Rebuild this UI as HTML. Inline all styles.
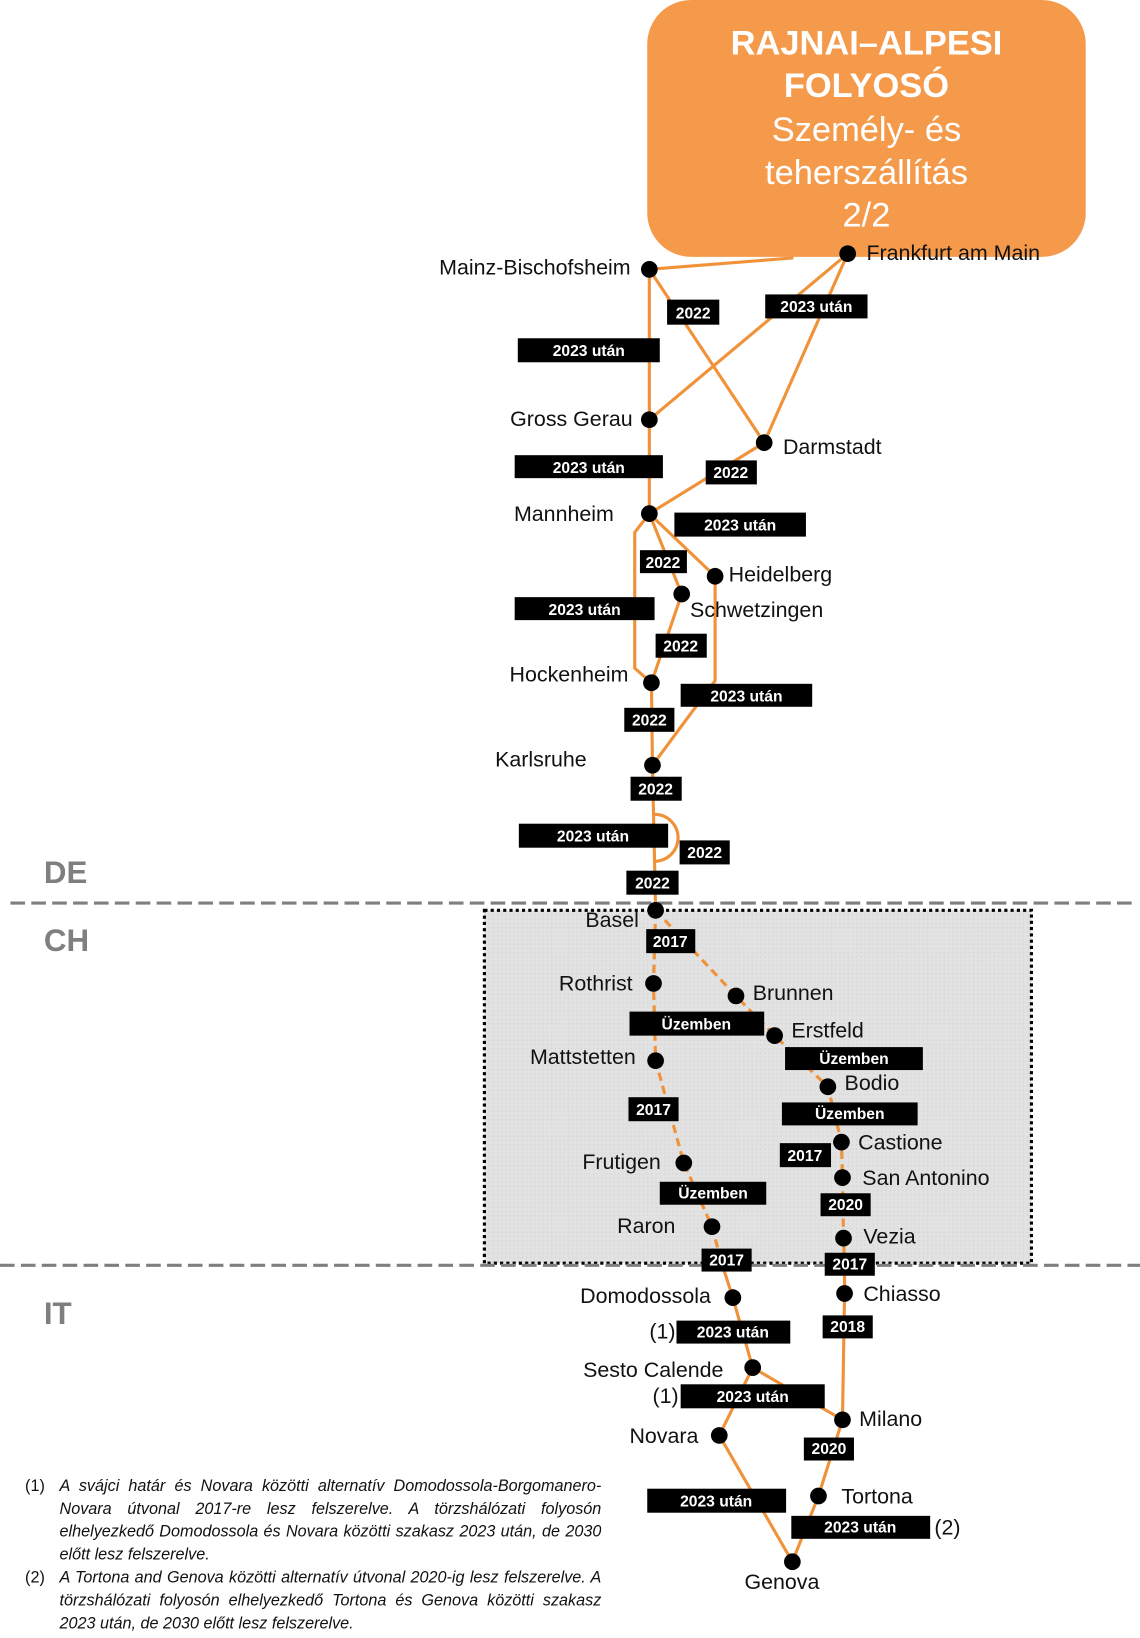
<!DOCTYPE html>
<html><head><meta charset="utf-8"><style>
html,body{margin:0;padding:0;background:#fff;}
svg{display:block;}
.st{font-family:"Liberation Sans",sans-serif;font-size:20.5px;fill:#111;}
.lb{font-family:"Liberation Sans",sans-serif;font-size:15px;font-weight:bold;fill:#fff;text-anchor:middle;}
.o{stroke:#f0923a;stroke-width:3;fill:none;}
.od{stroke:#f0923a;stroke-width:3;fill:none;stroke-dasharray:8,5;}
.cty{font-family:"Liberation Sans",sans-serif;font-size:30px;font-weight:bold;fill:#7f7f7f;}
.fn{font-family:"Liberation Sans",sans-serif;font-style:italic;font-size:15.5px;line-height:22px;color:#111;text-align:justify;}
</style></head><body>
<svg width="1140" height="1638" viewBox="0 0 1092 1569" xmlns="http://www.w3.org/2000/svg">
<defs>
<pattern id="hatch" width="4" height="4" patternUnits="userSpaceOnUse"><rect width="4" height="4" fill="#e2e2e2"/><rect width="1" height="1" fill="#cfcfcf"/></pattern>
</defs>
<rect x="464" y="872" width="524" height="338" fill="url(#hatch)" stroke="#000" stroke-width="3" stroke-dasharray="3,3"/>
<line x1="10" y1="865" x2="1085" y2="865" stroke="#7f7f7f" stroke-width="3" stroke-dasharray="14,6"/>
<line x1="0" y1="1212" x2="1092" y2="1212" stroke="#7f7f7f" stroke-width="3" stroke-dasharray="14,6"/>
<text class="cty" x="42" y="846">DE</text>
<text class="cty" x="42" y="911">CH</text>
<text class="cty" x="42" y="1268">IT</text>

<rect x="620" y="0" width="420" height="246" rx="42" fill="#f59a4b"/>
<g font-family="Liberation Sans,sans-serif" fill="#fff" text-anchor="middle">
<text x="830" y="52" font-size="33" font-weight="bold">RAJNAI–ALPESI</text>
<text x="830" y="93" font-size="33" font-weight="bold">FOLYOSÓ</text>
<text x="830" y="135" font-size="33">Személy- és</text>
<text x="830" y="176" font-size="33">teherszállítás</text>
<text x="830" y="217" font-size="33">2/2</text>
</g>

<path class="o" d="M622 258 L760 247"/>
<path class="o" d="M622 258 L622 492"/>
<path class="o" d="M622 258 L732 424"/>
<path class="o" d="M812 243 L622 402"/>
<path class="o" d="M812 243 L732 424"/>
<path class="o" d="M732 424 L622 492"/>
<path class="o" d="M622 492 L608 510 L608 640 L624 654"/>
<path class="o" d="M622 492 L653 569 L624 654"/>
<path class="o" d="M622 492 L685 552 L685 652 L625 733"/>
<path class="o" d="M624 654 L625 733 L628 872"/>
<path class="o" d="M627 780 A22 22 0 0 1 627 825"/>
<path class="od" d="M628 872 L626 942 L628 1016 L655 1114 L682 1175 L692 1212"/>
<path class="o" d="M692 1212 L702 1243 L721 1310 L689 1375 L759 1496"/>
<path class="od" d="M628 872 L705 954 L742 992 L793 1041 L806 1094 L807 1128 L808 1186 L809 1212"/>
<path class="o" d="M809 1212 L809 1239 L807 1360 L784 1433 L759 1496"/>
<path class="o" d="M721 1310 L807 1360"/>

<g fill="#000">
<circle cx="812" cy="243" r="8"/><circle cx="622" cy="258" r="8"/><circle cx="622" cy="402" r="8"/>
<circle cx="732" cy="424" r="8"/><circle cx="622" cy="492" r="8"/><circle cx="685" cy="552" r="8"/>
<circle cx="653" cy="569" r="8"/><circle cx="624" cy="654" r="8"/><circle cx="625" cy="733" r="8"/>
<circle cx="628" cy="872" r="8"/><circle cx="626" cy="942" r="8"/><circle cx="705" cy="954" r="8"/>
<circle cx="742" cy="992" r="8"/><circle cx="628" cy="1016" r="8"/><circle cx="793" cy="1041" r="8"/>
<circle cx="655" cy="1114" r="8"/><circle cx="806" cy="1094" r="8"/><circle cx="807" cy="1128" r="8"/>
<circle cx="682" cy="1175" r="8"/><circle cx="808" cy="1186" r="8"/><circle cx="702" cy="1243" r="8"/>
<circle cx="809" cy="1239" r="8"/><circle cx="721" cy="1310" r="8"/><circle cx="807" cy="1360" r="8"/>
<circle cx="689" cy="1375" r="8"/><circle cx="784" cy="1433" r="8"/><circle cx="759" cy="1496" r="8"/>
</g>

<text class="st" x="830" y="249">Frankfurt am Main</text>
<text class="st" x="604" y="263" text-anchor="end">Mainz-Bischofsheim</text>
<text class="st" x="606" y="408" text-anchor="end">Gross Gerau</text>
<text class="st" x="750" y="435">Darmstadt</text>
<text class="st" x="588" y="499" text-anchor="end">Mannheim</text>
<text class="st" x="698" y="557">Heidelberg</text>
<text class="st" x="661" y="591">Schwetzingen</text>
<text class="st" x="602" y="653" text-anchor="end">Hockenheim</text>
<text class="st" x="562" y="734" text-anchor="end">Karlsruhe</text>
<text class="st" x="612" y="888" text-anchor="end">Basel</text>
<text class="st" x="606" y="949" text-anchor="end">Rothrist</text>
<text class="st" x="721" y="958">Brunnen</text>
<text class="st" x="758" y="994">Erstfeld</text>
<text class="st" x="609" y="1019" text-anchor="end">Mattstetten</text>
<text class="st" x="809" y="1044">Bodio</text>
<text class="st" x="633" y="1120" text-anchor="end">Frutigen</text>
<text class="st" x="822" y="1101">Castione</text>
<text class="st" x="826" y="1135">San Antonino</text>
<text class="st" x="647" y="1181" text-anchor="end">Raron</text>
<text class="st" x="827" y="1191">Vezia</text>
<text class="st" x="681" y="1248" text-anchor="end">Domodossola</text>
<text class="st" x="827" y="1246">Chiasso</text>
<text class="st" x="693" y="1319" text-anchor="end">Sesto Calende</text>
<text class="st" x="823" y="1366">Milano</text>
<text class="st" x="669" y="1382" text-anchor="end">Novara</text>
<text class="st" x="806" y="1440">Tortona</text>
<text class="st" x="749" y="1522" text-anchor="middle">Genova</text>
<text class="st" x="622" y="1282" font-size="16">(1)</text>
<text class="st" x="625" y="1344" font-size="16">(1)</text>
<text class="st" x="895" y="1470" font-size="16">(2)</text>

<g fill="#000">
<rect x="639" y="287" width="50" height="24"/><rect x="733" y="282" width="98" height="23"/>
<rect x="496" y="324" width="136" height="23"/><rect x="493" y="436" width="142" height="22"/>
<rect x="676" y="441" width="49" height="23"/><rect x="646" y="491" width="126" height="23"/>
<rect x="613" y="527" width="45" height="22"/><rect x="493" y="572" width="134" height="22"/>
<rect x="628" y="607" width="49" height="23"/><rect x="652" y="655" width="126" height="22"/>
<rect x="598" y="678" width="48" height="23"/><rect x="604" y="744" width="49" height="23"/>
<rect x="497" y="789" width="143" height="23"/><rect x="651" y="805" width="48" height="23"/>
<rect x="600" y="834" width="50" height="23"/><rect x="619" y="890" width="47" height="23"/>
<rect x="603" y="969" width="129" height="23"/><rect x="752" y="1003" width="132" height="22"/>
<rect x="602" y="1051" width="48" height="23"/><rect x="749" y="1056" width="130" height="22"/>
<rect x="747" y="1095" width="49" height="23"/><rect x="632" y="1132" width="102" height="22"/>
<rect x="786" y="1143" width="48" height="22"/><rect x="672" y="1196" width="48" height="22"/>
<rect x="790" y="1200" width="48" height="22"/><rect x="648" y="1265" width="109" height="22"/>
<rect x="788" y="1260" width="48" height="22"/><rect x="652" y="1326" width="138" height="23"/>
<rect x="770" y="1377" width="48" height="22"/><rect x="620" y="1426" width="133" height="23"/>
<rect x="758" y="1452" width="133" height="22"/>
</g>
<text class="lb" x="664" y="305">2022</text><text class="lb" x="782" y="299">2023 után</text>
<text class="lb" x="564" y="341">2023 után</text><text class="lb" x="564" y="453">2023 után</text>
<text class="lb" x="700" y="458">2022</text><text class="lb" x="709" y="508">2023 után</text>
<text class="lb" x="635" y="544">2022</text><text class="lb" x="560" y="589">2023 után</text>
<text class="lb" x="652" y="624">2022</text><text class="lb" x="715" y="672">2023 után</text>
<text class="lb" x="622" y="695">2022</text><text class="lb" x="628" y="761">2022</text>
<text class="lb" x="568" y="806">2023 után</text><text class="lb" x="675" y="822">2022</text>
<text class="lb" x="625" y="851">2022</text><text class="lb" x="642" y="907">2017</text>
<text class="lb" x="667" y="986">Üzemben</text><text class="lb" x="818" y="1019">Üzemben</text>
<text class="lb" x="626" y="1068">2017</text><text class="lb" x="814" y="1072">Üzemben</text>
<text class="lb" x="771" y="1112">2017</text><text class="lb" x="683" y="1148">Üzemben</text>
<text class="lb" x="810" y="1159">2020</text><text class="lb" x="696" y="1212">2017</text>
<text class="lb" x="814" y="1216">2017</text><text class="lb" x="702" y="1281">2023 után</text>
<text class="lb" x="812" y="1276">2018</text><text class="lb" x="721" y="1343">2023 után</text>
<text class="lb" x="794" y="1393">2020</text><text class="lb" x="686" y="1443">2023 után</text>
<text class="lb" x="824" y="1468">2023 után</text>

<foreignObject x="24" y="1413" width="552" height="156">
<div xmlns="http://www.w3.org/1999/xhtml" class="fn">
<div style="display:flex"><span style="width:33px;font-style:normal;flex:none">(1)</span><span>A svájci határ és Novara közötti alternatív Domodossola-Borgomanero-Novara útvonal 2017-re lesz felszerelve. A törzshálózati folyosón elhelyezkedő Domodossola és Novara közötti szakasz 2023 után, de 2030 előtt lesz felszerelve.</span></div>
<div style="display:flex"><span style="width:33px;font-style:normal;flex:none">(2)</span><span>A Tortona and Genova közötti alternatív útvonal 2020-ig lesz felszerelve. A törzshálózati folyosón elhelyezkedő Tortona és Genova közötti szakasz 2023 után, de 2030 előtt lesz felszerelve.</span></div>
</div>
</foreignObject>
</svg>
</body></html>
